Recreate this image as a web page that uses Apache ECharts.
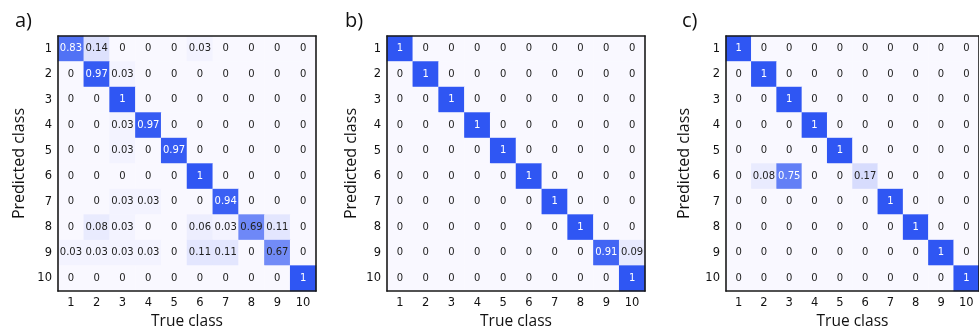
<!DOCTYPE html>
<html>
<head>
<meta charset="utf-8">
<script src="https://cdn.jsdelivr.net/npm/echarts@6/dist/echarts.min.js"></script>
<style>
  html, body { margin: 0; padding: 0; background: #ffffff; }
  #chart { width: 979px; height: 335px; }
</style>
</head>
<body>
<div id="chart"></div>
<script>
// Class labels (shared by both axes of every matrix)
const classes = ['1', '2', '3', '4', '5', '6', '7', '8', '9', '10'];
const panelTitles = ['a)', 'b)', 'c)'];

// Normalized confusion matrices: rows = predicted class, columns = true class
const matrixA = [
  [0.83, 0.14, 0, 0, 0, 0.03, 0, 0, 0, 0],
  [0, 0.97, 0.03, 0, 0, 0, 0, 0, 0, 0],
  [0, 0, 1, 0, 0, 0, 0, 0, 0, 0],
  [0, 0, 0.03, 0.97, 0, 0, 0, 0, 0, 0],
  [0, 0, 0.03, 0, 0.97, 0, 0, 0, 0, 0],
  [0, 0, 0, 0, 0, 1, 0, 0, 0, 0],
  [0, 0, 0.03, 0.03, 0, 0, 0.94, 0, 0, 0],
  [0, 0.08, 0.03, 0, 0, 0.06, 0.03, 0.69, 0.11, 0],
  [0.03, 0.03, 0.03, 0.03, 0, 0.11, 0.11, 0, 0.67, 0],
  [0, 0, 0, 0, 0, 0, 0, 0, 0, 1]
];
const matrixB = [
  [1, 0, 0, 0, 0, 0, 0, 0, 0, 0],
  [0, 1, 0, 0, 0, 0, 0, 0, 0, 0],
  [0, 0, 1, 0, 0, 0, 0, 0, 0, 0],
  [0, 0, 0, 1, 0, 0, 0, 0, 0, 0],
  [0, 0, 0, 0, 1, 0, 0, 0, 0, 0],
  [0, 0, 0, 0, 0, 1, 0, 0, 0, 0],
  [0, 0, 0, 0, 0, 0, 1, 0, 0, 0],
  [0, 0, 0, 0, 0, 0, 0, 1, 0, 0],
  [0, 0, 0, 0, 0, 0, 0, 0, 0.91, 0.09],
  [0, 0, 0, 0, 0, 0, 0, 0, 0, 1]
];
const matrixC = [
  [1, 0, 0, 0, 0, 0, 0, 0, 0, 0],
  [0, 1, 0, 0, 0, 0, 0, 0, 0, 0],
  [0, 0, 1, 0, 0, 0, 0, 0, 0, 0],
  [0, 0, 0, 1, 0, 0, 0, 0, 0, 0],
  [0, 0, 0, 0, 1, 0, 0, 0, 0, 0],
  [0, 0.08, 0.75, 0, 0, 0.17, 0, 0, 0, 0],
  [0, 0, 0, 0, 0, 0, 1, 0, 0, 0],
  [0, 0, 0, 0, 0, 0, 0, 1, 0, 0],
  [0, 0, 0, 0, 0, 0, 0, 0, 1, 0],
  [0, 0, 0, 0, 0, 0, 0, 0, 0, 1]
];
const matrices = [matrixA, matrixB, matrixC];

// Layout of the three panels
const grids = [
  { left: 58, top: 36, width: 258, height: 258 },
  { left: 387, top: 36, width: 258, height: 258 },
  { left: 726, top: 36, width: 258, height: 258 }
];
const titleLefts = [10, 340, 677];
const yNameGaps = [31, 28, 34];

const tickFont = 'DejaVu Sans';
const nameFont = 'Open Sans';
const frame = { show: true, onZero: false, lineStyle: { color: '#1a1a1a', width: 1.6 } };

function cellData(m) {
  const out = [];
  m.forEach((row, r) => {
    row.forEach((v, c) => {
      out.push({
        value: [c, r, v],
        label: { color: v >= 0.72 ? '#ffffff' : '#222222' }
      });
    });
  });
  return out;
}

const option = {
  backgroundColor: '#ffffff',
  animation: false,
  title: panelTitles.map((t, i) => ({
    text: t, left: titleLefts[i], top: 6,
    textStyle: { fontFamily: nameFont, fontSize: 20, fontWeight: 'normal', color: '#111' }
  })),
  visualMap: {
    show: false, min: 0, max: 1, dimension: 2,
    seriesIndex: [0, 1, 2],
    inRange: { color: ['#f9f8ff', '#2f56f3'] }
  },
  grid: grids.map(g => Object.assign({ containLabel: false }, g)),
  xAxis: [],
  yAxis: [],
  series: []
};

grids.forEach((g, i) => {
  // bottom axis with tick labels and title
  option.xAxis.push({
    type: 'category', gridIndex: i, data: classes, position: 'bottom', z: 10,
    name: 'True class', nameLocation: 'middle', nameGap: 19,
    nameTextStyle: { fontFamily: nameFont, fontSize: 15.5, color: '#111' },
    axisLine: frame,
    axisTick: { show: false },
    axisLabel: { fontFamily: tickFont, fontSize: 11.5, color: '#111', margin: 6 },
    splitLine: { show: false }
  });
  // top frame edge
  option.xAxis.push({
    type: 'category', gridIndex: i, data: classes, position: 'top', z: 10,
    axisLine: frame,
    axisTick: { show: false }, axisLabel: { show: false }, splitLine: { show: false }
  });
  // left axis with tick labels and title
  option.yAxis.push({
    type: 'category', gridIndex: i, data: classes, inverse: true, position: 'left', z: 10,
    name: 'Predicted class', nameLocation: 'middle', nameGap: yNameGaps[i], nameRotate: 90,
    nameTextStyle: { fontFamily: nameFont, fontSize: 16, color: '#111' },
    axisLine: frame,
    axisTick: { show: false },
    axisLabel: { fontFamily: tickFont, fontSize: 11.5, color: '#111', margin: 6 },
    splitLine: { show: false }
  });
  // right frame edge
  option.yAxis.push({
    type: 'category', gridIndex: i, data: classes, inverse: true, position: 'right', z: 10,
    axisLine: frame,
    axisTick: { show: false }, axisLabel: { show: false }, splitLine: { show: false }
  });
  option.series.push({
    type: 'heatmap',
    xAxisIndex: i * 2,
    yAxisIndex: i * 2,
    data: cellData(matrices[i]),
    label: {
      show: true,
      fontFamily: tickFont,
      fontSize: 10,
      formatter: p => String(p.value[2])
    },
    itemStyle: { borderWidth: 0 },
    emphasis: { disabled: true },
    z: 1
  });
});

const chart = echarts.init(document.getElementById('chart'), null, { renderer: 'canvas' });
chart.setOption(option);
</script>
</body>
</html>
